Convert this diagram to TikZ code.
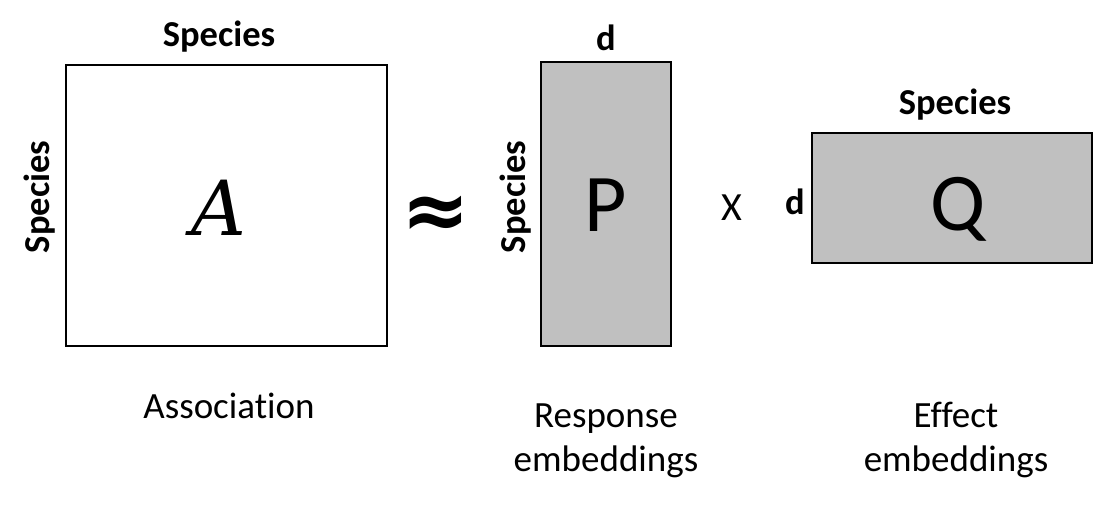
\documentclass[tikz,border=0pt]{standalone}
\usepackage{fontspec}
\setmainfont{Carlito}[Ligatures=NoCommon]
\newfontfamily\symfont{DejaVu Sans}
\newfontfamily\afont{DejaVu Serif}
\begin{document}
\begin{tikzpicture}[x=1pt,y=-1pt,
  mat/.style={draw=black,line width=2.5pt},
  grey/.style={mat,fill=matgrey},
  lab/.style={font=\fontsize{36.5}{40}\selectfont\bfseries,anchor=base,inner sep=0pt},
  captxt/.style={font=\fontsize{37}{40}\selectfont,anchor=base,inner sep=0pt,align=center},
  big/.style={font=\fontsize{82}{90}\selectfont,anchor=base,inner sep=0pt}]
\definecolor{matgrey}{RGB}{192,192,192}
\useasboundingbox (0,0) rectangle (1103,504);
\draw[mat] (66,65) rectangle (387,346);
\draw[grey] (541,62) rectangle (671,346);
\draw[grey] (812,133) rectangle (1092,263);
\node[lab] (sa) at (219,46) {Species};
\node[lab,rotate=90] (sl) at (49,197) {Species};
\node[lab,rotate=90] (sp) at (525,197) {Species};
\node[lab] (dp) at (606,50) {d};
\node[lab] (dq) at (795,214) {d};
\node[lab] (sq) at (955,114) {Species};
\node[big,font=\fontsize{76}{80}\selectfont\afont\itshape] (a) at (219,235) {A};
\node[font=\fontsize{82}{86}\selectfont\symfont\bfseries,inner sep=0pt] (approx) at (436,217) {≈};
\node[big] (p) at (606,231) {P};
\node[captxt,font=\fontsize{40}{40}\selectfont] (x) at (732,220) {X};
\node[big] (q) at (958,230) {Q};
\node[captxt] (as) at (229,418) {Association};
\node[captxt] (re) at (606,427) {Response};
\node[captxt] (re2) at (606,471) {embeddings};
\node[captxt] (ef) at (956,427) {Effect};
\node[captxt] (ef2) at (956,471) {embeddings};
\end{tikzpicture}
\end{document}
